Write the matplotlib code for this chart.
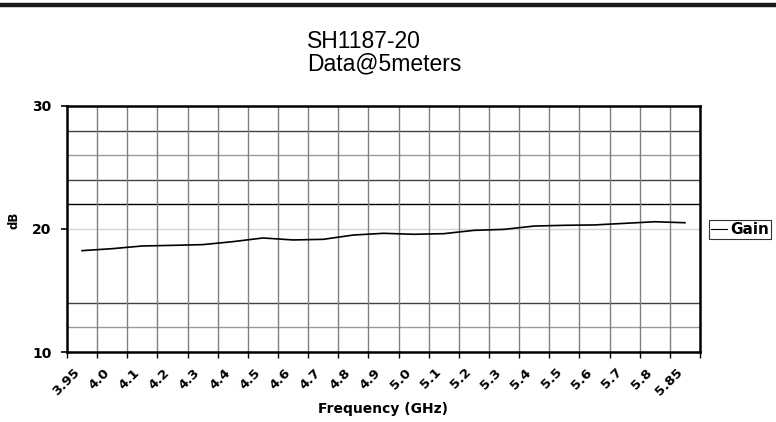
import matplotlib
matplotlib.use("Agg")
import matplotlib.pyplot as plt
from matplotlib.lines import Line2D

# === Данные ===
freq_labels = ["3.95", "4.0", "4.1", "4.2", "4.3", "4.4", "4.5", "4.6", "4.7", "4.8", "4.9",
               "5.0", "5.1", "5.2", "5.3", "5.4", "5.5", "5.6", "5.7", "5.8", "5.85"]
gain_db = [18.24, 18.40, 18.62, 18.67, 18.73, 18.97, 19.27, 19.11, 19.16, 19.51, 19.65,
           19.57, 19.62, 19.89, 19.97, 20.24, 20.30, 20.33, 20.46, 20.59, 20.51]
grid_levels = [12, 14, 20, 22, 24, 26, 28]
grid_colors = ["#9a9a9a", "#404040", "#d4d4d4", "#000000", "#404040", "#9a9a9a", "#404040"]

W, H = 776, 422
fig = plt.figure(figsize=(W / 100, H / 100), dpi=100)
fig.patch.set_facecolor("white")

# область графика (в пикселях: 67..700 по x, 106..352 по y)
ax = fig.add_axes([67 / W, 1 - 352 / H, (700 - 67) / W, (352 - 106) / H])

n = len(freq_labels)
xs = list(range(n))
ax.set_xlim(-0.5, n - 0.5)
ax.set_ylim(10, 30)

# сетка
for lvl, col in zip(grid_levels, grid_colors):
    ax.axhline(lvl, color=col, lw=1.0, zorder=1)
for i in range(n - 1):
    ax.axvline(i + 0.5, color="#808080", lw=1.0, zorder=1)

ax.plot(xs, gain_db, color="black", lw=1.2, label="Gain", zorder=3)

# оси
for s in ax.spines.values():
    s.set_linewidth(1.8)
    s.set_color("black")
    s.set_zorder(4)

ax.set_yticks([10, 20, 30])
ax.tick_params(axis="y", direction="out", length=4, width=1.2, pad=7, labelsize=10)
for t in ax.get_yticklabels():
    t.set_fontweight("bold")

ax.set_xticks(xs)
ax.set_xticklabels(freq_labels, rotation=45, ha="right", fontsize=9.5, fontweight="bold")
ax.set_xticks([i - 0.5 for i in range(n + 1)], minor=True)
ax.tick_params(axis="x", which="major", length=0, pad=10)
ax.tick_params(axis="x", which="minor", direction="out", length=4, width=1.0)

ax.set_xlabel("Frequency (GHz)", fontsize=10, fontweight="bold")
ax.xaxis.set_label_coords(0.5, -0.205)
ax.set_ylabel("dB", fontsize=8.5, fontweight="bold")
ax.yaxis.set_label_coords(-0.074, 0.537)

# заголовок
fig.text(307 / W, 1 - 30 / H, "SH1187-20\nData@5meters", ha="left", va="top",
         fontsize=16.5, family="Liberation Sans", linespacing=0.95)

# легенда (справа обрезается краем рисунка, как в оригинале)
leg = ax.legend(loc="center left", bbox_to_anchor=(709 / W, 1 - 229.5 / H),
                bbox_transform=fig.transFigure, frameon=True, fancybox=False,
                handlelength=1.1, handletextpad=0.2, borderpad=0.1, borderaxespad=0,
                prop={"weight": "bold", "size": 11})
leg.get_frame().set_edgecolor("black")
leg.get_frame().set_linewidth(0.8)
leg.get_lines()[0].set_linewidth(0.8)

# верхняя чёрная полоса
fig.add_artist(Line2D([0, 1], [1 - 5 / H, 1 - 5 / H], transform=fig.transFigure,
                      color="#1a1a1a", lw=3.2))

fig.savefig("out.png", dpi=100)
